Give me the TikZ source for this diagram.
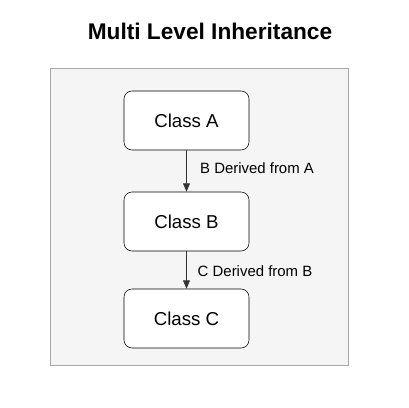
\documentclass[tikz,border=0pt]{standalone}
\usepackage{fontspec}
\setmainfont{Liberation Sans}
\usepackage{xcolor}
\usepackage{tikz}
\usetikzlibrary{arrows.meta,positioning}
\definecolor{framec}{HTML}{A6A6A6}
\definecolor{panelbg}{HTML}{F5F5F5}
\definecolor{linec}{HTML}{333333}
\tikzset{
  ar/.style={-{Triangle[length=2.2mm,width=1.8mm]},semithick,linec},
  cls/.style={draw=black,thin,rounded corners=6pt,fill=white,align=center,
    minimum width=93.75pt,minimum height=44.25pt,inner sep=0pt,font=\fontsize{14}{16}\selectfont},
  lbl/.style={inner sep=1pt,font=\fontsize{11.2}{13}\selectfont}
}
\begin{document}
\begin{tikzpicture}[x=0.75pt,y=-0.75pt]
\useasboundingbox (0,0) rectangle (409,407);
\node[font=\fontsize{17}{20}\selectfont\bfseries] (title) at (210,31) {Multi Level Inheritance};
\draw[framec,fill=panelbg] (50,68) rectangle (348,365);
\node[cls] (ca) at (186.5,120.5) {Class A};
\node[cls] (cb) at (186.5,221.5) {Class B};
\node[cls] (cc) at (186.5,318.5) {Class C};
\draw[ar] (ca) -- (cb);
\draw[ar] (cb) -- (cc);
\node[lbl] (lab) at (257,168) {B Derived from A};
\node[lbl] (lbc) at (255,271) {C Derived from B};
\end{tikzpicture}
\end{document}
